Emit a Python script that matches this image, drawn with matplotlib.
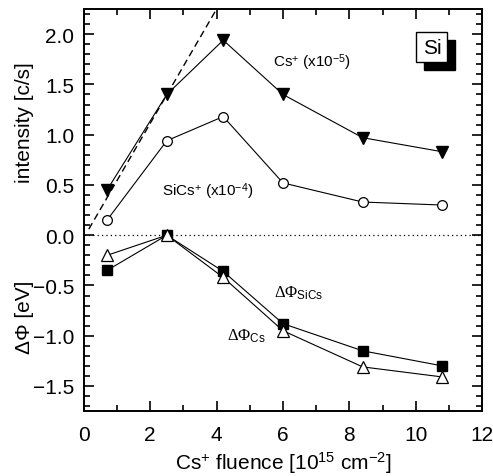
import matplotlib
matplotlib.use("Agg")
import matplotlib.pyplot as plt
from matplotlib.patches import Rectangle
from matplotlib.ticker import MultipleLocator

plt.rcParams['font.family'] = ['Liberation Sans', 'DejaVu Sans']
plt.rcParams['mathtext.fontset'] = 'custom'
plt.rcParams['mathtext.rm'] = 'Liberation Serif'
plt.rcParams['mathtext.it'] = 'Liberation Serif:italic'
plt.rcParams['mathtext.sf'] = 'Liberation Sans'

# fluence [1e15 cm^-2]
fluence = [0.7, 2.5, 4.2, 6.0, 8.4, 10.8]
cs_int = [0.45, 1.40, 1.94, 1.40, 0.97, 0.83]       # Cs+ (x1e-5)
sics_int = [0.15, 0.94, 1.18, 0.52, 0.33, 0.30]     # SiCs+ (x1e-4)
dphi_sics = [-0.35, 0.0, -0.36, -0.88, -1.15, -1.30]
dphi_cs = [-0.20, 0.0, -0.42, -0.95, -1.31, -1.41]

# dashed initial-slope guide
guide_x = [0.15, 4.0]
guide_y = [0.06, 2.25]

fig = plt.figure(figsize=(4.93, 4.77), dpi=100)
ax = fig.add_axes([0.170, 0.136, 0.808, 0.843])

lw = 0.8
ax.plot(guide_x, guide_y, ls=(0, (5, 3)), color='black', lw=1.0)
ax.axhline(0, ls=(0, (1, 2.5)), color='black', lw=0.9)

ax.plot(fluence, cs_int, '-v', color='black', lw=lw, ms=9, mfc='black')
ax.plot(fluence, sics_int, '-o', color='black', lw=lw, ms=7, mfc='white', mew=0.9)
ax.plot(fluence, dphi_sics, '-s', color='black', lw=lw, ms=7, mfc='black')
ax.plot(fluence, dphi_cs, '-^', color='black', lw=lw, ms=8, mfc='white', mew=0.9)

ax.set_xlim(0, 12)
ax.set_ylim(-1.75, 2.25)
ax.xaxis.set_major_locator(MultipleLocator(2))
ax.xaxis.set_minor_locator(MultipleLocator(1))
ax.yaxis.set_major_locator(MultipleLocator(0.5))
ax.yaxis.set_minor_locator(MultipleLocator(0.1))
ax.tick_params(which='both', direction='in', top=True, right=True, labelsize=15, width=1.2)
ax.tick_params(which='major', length=7)
ax.tick_params(axis='x', which='major', pad=10)
ax.tick_params(axis='y', which='major', pad=7)
ax.tick_params(which='minor', length=4)
for s in ax.spines.values():
    s.set_linewidth(1.4)

ax.set_xlabel(r'Cs$^{\mathsf{+}}$ fluence [10$^{\mathsf{15}}$ cm$^{\mathsf{-2}}$]', fontsize=15, labelpad=4)
fig.text(0.05, 0.742, 'intensity [c/s]', rotation=90, ha='center', va='center', fontsize=15)
fig.text(0.05, 0.335, 'ΔΦ [eV]', rotation=90, ha='center', va='center', fontsize=15)

ax.text(5.7, 1.73, r'Cs$^{\mathsf{+}}$ (x10$^{\mathsf{-5}}$)', fontsize=11, va='center')
ax.text(2.35, 0.44, r'SiCs$^{\mathsf{+}}$ (x10$^{\mathsf{-4}}$)', fontsize=11, va='center')
ax.text(5.74, -0.57, r'$\Delta\Phi_{\mathsf{SiCs}}$', fontsize=12, va='center')
ax.text(4.3, -1.0, r'$\Delta\Phi_{\mathsf{Cs}}$', fontsize=12, va='center')

# "Si" label box with drop shadow
ax.add_patch(Rectangle((10.25, 1.64), 0.93, 0.30, facecolor='black', edgecolor='black', zorder=4))
ax.add_patch(Rectangle((10.02, 1.72), 0.93, 0.30, facecolor='white', edgecolor='black', lw=1.0, zorder=5))
ax.text(10.485, 1.87, 'Si', fontsize=15, ha='center', va='center', zorder=6)

fig.savefig('out.png', dpi=100)
